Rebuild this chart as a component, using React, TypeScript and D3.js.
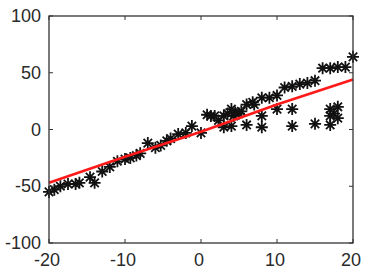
import React from "react";
import * as d3 from "d3";

const pointX = [-20, -19.3, -18.5, -17.5, -16.5, -16, -14.6, -14, -13, -12, -11, -10, -9.3, -8.5, -8, -7, -6, -5.3, -4.5, -4, -3, -2, -1.2, 0, 0.8, 1.3, 1.8, 2.3, 3, 3, 3.5, 4, 4.5, 5, 4, 4.3, 5.3, 6, 6, 6.8, 7, 8, 8, 8, 9, 10, 10, 11, 12, 12, 12, 13, 14, 15, 15, 16, 17, 17, 17, 17, 17.5, 18, 18, 18, 19, 20];
const pointY = [-55, -53, -50, -48, -48, -47, -42, -47, -37, -33, -28, -26, -25, -23, -21, -12, -16, -14, -10, -8, -4, -3, 3, -3, 13, 12, 12, 8, 12, 2, 14, 18, 15, 14, 3, 12, 16, 22, 4, 24, 22, 28, 12, 2, 28, 30, 18, 37, 38, 18, 3, 40, 41, 43, 5, 54, 54, 18, 12, 4, 14, 55, 20, 10, 55, 64];

const lineX = [-20, -10, 0, 10, 20];
const lineY = [-47, -24, -2, 22, 44];

const xTicks = [-20, -10, 0, 10, 20];
const yTicks = [-100, -50, 0, 50, 100];

export default function App() {
  const W = 369, H = 278;
  const left = 49, right = 353, top = 16, bottom = 243;
  const x = d3.scaleLinear().domain([-20, 20]).range([left, right]);
  const y = d3.scaleLinear().domain([-100, 100]).range([bottom, top]);
  const line = d3.line<number>().x((_, i) => x(lineX[i])).y((d) => y(d));
  const s = 6;
  const d2 = 4.2;
  const star = `M${-s},0L${s},0M0,${-s}L0,${s}M${-d2},${-d2}L${d2},${d2}M${-d2},${d2}L${d2},${-d2}`;
  const font = "'Liberation Sans', Arial, sans-serif";
  return (
    <svg width={W} height={H} style={{ position: "absolute", left: 0, top: 0 }}>
      <rect x={0} y={0} width={W} height={H} fill="#fff" />
      <g>
        {pointX.map((px, i) => (
          <path key={i} d={star} transform={`translate(${x(px)},${y(pointY[i])})`} stroke="#111" strokeWidth={1.8} fill="none" />
        ))}
      </g>
      <path d={line(lineY) || ""} stroke="#ff1a1a" strokeWidth={2.6} fill="none" />
      <rect x={left} y={top} width={right - left} height={bottom - top} fill="none" stroke="#333" strokeWidth={1.3} />
      {xTicks.map((t) => (
        <g key={"x" + t}>
          <line x1={x(t)} x2={x(t)} y1={bottom} y2={bottom - 4} stroke="#333" />
          <line x1={x(t)} x2={x(t)} y1={top} y2={top + 4} stroke="#333" />
          <text x={x(t) - 2} y={bottom + 23} textAnchor="middle" fontFamily={font} fontSize={18} fill="#2a2a2a">{t}</text>
        </g>
      ))}
      {yTicks.map((t) => (
        <g key={"y" + t}>
          <line x1={left} x2={left + 4} y1={y(t)} y2={y(t)} stroke="#333" />
          <line x1={right} x2={right - 4} y1={y(t)} y2={y(t)} stroke="#333" />
          <text x={left - 8} y={y(t) + 6} textAnchor="end" fontFamily={font} fontSize={18} fill="#2a2a2a">{t}</text>
        </g>
      ))}
    </svg>
  );
}
